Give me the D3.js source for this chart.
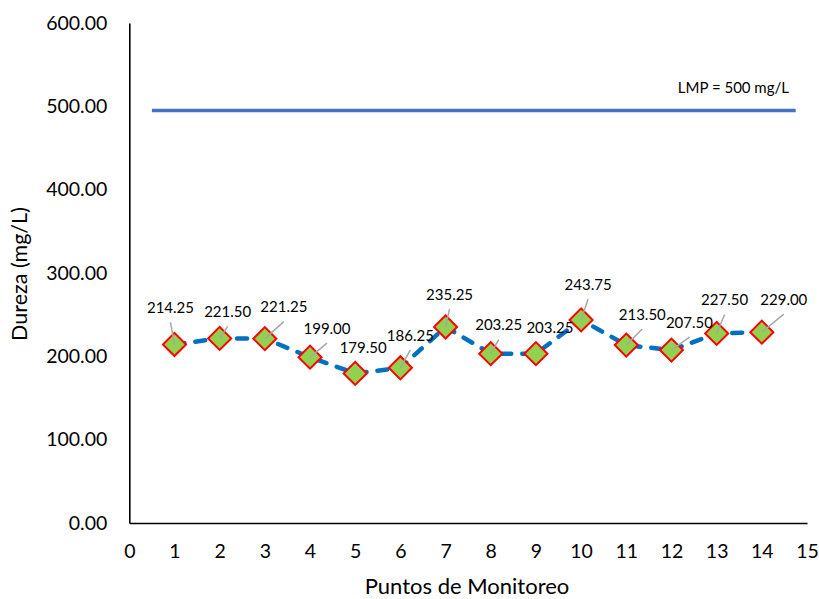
<!DOCTYPE html>
<html>
<head>
<meta charset="utf-8">
<script src="https://cdn.jsdelivr.net/npm/d3@7"></script>
<style>
  body { margin: 0; background: #fff; }
  svg { display: block; }
  text { font-family: Lato, "Open Sans", sans-serif; fill: #000; }
</style>
</head>
<body>
<svg id="chart" width="819" height="599"></svg>
<script>
// ---- Data ----
const points = [1, 2, 3, 4, 5, 6, 7, 8, 9, 10, 11, 12, 13, 14];
const dureza = [214.25, 221.50, 221.25, 199.00, 179.50, 186.25, 235.25, 203.25, 203.25, 243.75, 213.50, 207.50, 227.50, 229.00];
const lmpValue = 495;
const lmpRange = [0.5, 14.75];
const lmpLabel = "LMP = 500 mg/L";
const yTicks = [0, 100, 200, 300, 400, 500, 600];
const xTicks = [0, 1, 2, 3, 4, 5, 6, 7, 8, 9, 10, 11, 12, 13, 14, 15];
const xTitle = "Puntos de Monitoreo";
const yTitle = "Dureza (mg/L)";

// ---- Layout (label offsets in px, leader flags) ----
const labelDX = [-4, 8, 19, 17, 8, 10, 4, 8, 14, 7, 16, 18, 8, 22];
const labelDY = [-35, -25, -30, -27, -24, -31, -31, -27, -24, -34, -29, -26, -32, -31];
const leader  = [1, 1, 1, 1, 0, 1, 1, 1, 0, 1, 1, 1, 1, 1];

const svg = d3.select("#chart");
const x = d3.scaleLinear().domain([0, 15]).range([129.3, 807]);
const y = d3.scaleLinear().domain([0, 600]).range([523, 23]);

// Axes
const xAxis = d3.axisBottom(x).tickValues(xTicks).tickSize(0).tickPadding(20).tickFormat(d3.format("d"));
const gx = svg.append("g").attr("transform", `translate(0,${y(0)})`).call(xAxis);
gx.select(".domain").attr("stroke", "#000").attr("stroke-width", 1.6);
gx.selectAll("text").attr("font-size", 19.5).attr("dy", "0.32em").attr("y", 29);

const yAxis = d3.axisLeft(y).tickValues(yTicks).tickSize(0).tickPadding(22).tickFormat(d3.format(".2f"));
const gy = svg.append("g").attr("transform", `translate(${x(0)},0)`).call(yAxis);
gy.select(".domain").attr("stroke", "#000").attr("stroke-width", 1.6);
gy.selectAll("text").attr("font-size", 19.5);
svg.selectAll(".tick text").style("font-family", "Lato, 'Open Sans', sans-serif").attr("fill", "#000");

// Titles
svg.append("text").attr("x", 467).attr("y", 588).attr("text-anchor", "middle")
  .attr("dominant-baseline", "middle").attr("font-size", 22).text(xTitle);
svg.append("text").attr("transform", `translate(22,274) rotate(-90)`).attr("text-anchor", "middle")
  .attr("dominant-baseline", "middle").attr("font-size", 21.5).text(yTitle);

// LMP line
svg.append("line")
  .attr("x1", x(lmpRange[0])).attr("x2", x(lmpRange[1]))
  .attr("y1", y(lmpValue)).attr("y2", y(lmpValue))
  .attr("stroke", "#4472C4").attr("stroke-width", 3.5);
svg.append("text").attr("x", 789).attr("y", y(lmpValue) - 21).attr("text-anchor", "end")
  .attr("dominant-baseline", "middle").attr("font-size", 15).text(lmpLabel);

// Data line
const line = d3.line().x((d, i) => x(points[i])).y(d => y(d));
svg.append("path").datum(dureza)
  .attr("d", line).attr("fill", "none")
  .attr("stroke", "#0070C0").attr("stroke-width", 4.5)
  .attr("stroke-dasharray", "10,11").attr("stroke-linecap", "round");

// Markers
const sym = d3.symbol().type(d3.symbolSquare).size(16.3 * 16.3);
svg.append("g").selectAll("path").data(dureza).join("path")
  .attr("d", sym)
  .attr("transform", (d, i) => `translate(${x(points[i])},${y(d)}) rotate(45)`)
  .attr("fill", "#92D050").attr("stroke", "#FF0000").attr("stroke-width", 2);

// Leader lines
svg.append("g").selectAll("line").data(dureza.map((d, i) => i).filter(i => leader[i])).join("line")
  .attr("x1", i => x(points[i]) + labelDX[i])
  .attr("y1", i => y(dureza[i]) + labelDY[i] + 13)
  .attr("x2", i => x(points[i]))
  .attr("y2", i => y(dureza[i]))
  .attr("stroke", "#A6A6A6").attr("stroke-width", 1.5);

// Data labels
svg.append("g").selectAll("text").data(dureza).join("text")
  .attr("x", (d, i) => x(points[i]) + labelDX[i])
  .attr("y", (d, i) => y(d) + labelDY[i])
  .attr("text-anchor", "middle").attr("dominant-baseline", "middle")
  .attr("font-size", 15)
  .text(d => d3.format(".2f")(d));
</script>
</body>
</html>
